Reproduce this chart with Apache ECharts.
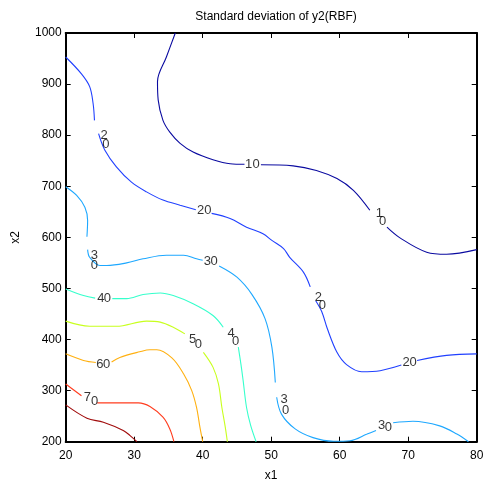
<!DOCTYPE html>
<html>
<head>
<meta charset="utf-8">
<script src="https://cdn.jsdelivr.net/npm/echarts@6/dist/echarts.min.js"></script>
<style>html,body{margin:0;padding:0;background:#fff}#c{width:487px;height:491px}</style>
</head>
<body>
<div id="c"></div>
<script>
// ---- data (x1, x2) ----
const levels = [10, 20, 30, 40, 50, 60, 70, 80];
const level10 = [
  [[36,1000],[34.7,953],[33.4,905],[33.5,869],[34.2,829],[35.2,806],[36.7,784],[38.6,767],[41.5,752],[44.0,744],[46.1,743]],
  [[48.5,742],[53.2,740],[56.6,731],[59.6,715],[62.0,692],[64.4,653]],
  [[66.9,620],[68.8,599],[72.7,571],[75.6,567],[80,576]]
];
const level20 = [
  [[20,953],[22.3,920],[23.5,895],[24.0,862],[24.2,829]],
  [[24.8,803],[25.7,771],[27.4,738],[29.6,708],[31.8,689],[34.2,673],[36.7,663],[39.0,654]],
  [[41.3,647],[44.0,637],[46.4,620],[48.8,607],[50.1,594],[51.8,578],[52.7,561],[54.7,532],[55.7,503]],
  [[56.5,476],[57.4,454],[58.2,421],[59.6,375],[61.0,351],[63.2,337],[65.9,339],[69.0,350]],
  [[71.3,359],[75.6,369],[80,372]]
];
const level30 = [
  [[20,699],[21.6,682],[22.8,659],[23.2,633],[23.1,601]],
  [[23.2,576],[23.5,561],[25.0,545],[26.0,545],[28.9,550],[31.3,558],[34.7,565],[37.2,565],[39.1,558],[40.0,555]],
  [[42.4,544],[45.0,522],[47.2,488],[49.1,441],[50.1,385],[50.6,316]],
  [[50.8,287],[51.5,254],[53.5,225],[56.1,208],[59.1,201],[61.5,202],[64.0,215],[65.3,222]],
  [[67.8,237],[70.7,240],[74.6,231],[77.1,215],[78.8,200]]
];
const level40 = [
  [[20,499],[22.6,486],[24.3,481]],
  [[26.8,480],[28.9,480],[31.3,488],[33.8,491],[35.7,486],[38.6,470],[41.5,447],[43.0,424]],
  [[45.2,385],[45.6,350],[45.9,320],[46.4,267],[47.0,232],[47.8,200]]
];
const level50 = [
  [[20,436],[23.5,426],[27.4,426],[31.8,436],[33.8,434],[35.7,424],[37.4,411]],
  [[40.1,375],[41.5,346],[42.3,313],[42.8,267],[43.3,228],[43.6,200]]
];
const level60 = [
  [[20,372],[22.6,359],[24.4,355]],
  [[26.7,356],[27.9,365],[30.8,376],[32.3,380],[33.3,380],[35.5,364],[37.2,333],[38.4,300],[39.1,267],[39.6,228],[40.0,200]]
];
const level70 = [
  [[20,313],[22.3,290]],
  [[24.6,276],[26.5,276],[30.6,276],[32.3,269],[34.2,248],[35.2,225],[35.8,200]]
];
const level80 = [
  [[20,272],[23.1,246],[25.5,238],[28.4,222],[29.4,212],[30.4,200]]
];
// contour label characters: [x1, x2, text]
const labelItems = [
  [46.69,743,'1'],[47.78,743,'0'],
  [65.78,646,'1'],[66.28,632,'0'],
  [25.59,800,'2'],[25.88,782,'0'],
  [39.68,652,'2'],[40.77,652,'0'],
  [56.88,482,'2'],[57.46,467,'0'],
  [69.68,355,'2'],[70.70,355,'0'],
  [24.18,565,'3'],[24.18,545,'0'],
  [40.67,552,'3'],[41.65,552,'0'],
  [51.87,282,'3'],[52.12,262,'0'],
  [66.13,232,'3'],[67.10,228,'0'],
  [25.15,481,'4'],[26.10,481,'0'],
  [44.13,411,'4'],[44.82,397,'0'],
  [38.54,401,'5'],[39.36,390,'0'],
  [25.00,352,'6'],[25.99,352,'0'],
  [23.15,287,'7'],[24.23,279,'0']
];
const xRange = [20, 80, 10];
const yRange = [200, 1000, 100];
const titleText = 'Standard deviation of y2(RBF)';

// ---- styles ----
const levelColors = ['#0a0aa0','#2040ff','#1ea8ff','#36ffcc','#c8ff1e','#ffb010','#ff3c1e','#a00a0a'];
const font = "'Liberation Sans', Arial, Helvetica, sans-serif";
const allLevels = [level10, level20, level30, level40, level50, level60, level70, level80];

const series = [];
allLevels.forEach((pieces, i) => {
  pieces.forEach(p => {
    series.push({
      type: 'line', data: p, showSymbol: false, smooth: 0.35, silent: true,
      lineStyle: { color: levelColors[i], width: 1.1 }, z: 2, animation: false,
      name: String(levels[i])
    });
  });
});
series.push({
  type: 'scatter', data: labelItems, symbolSize: 1, itemStyle: { color: 'rgba(0,0,0,0)' },
  silent: true, animation: false, z: 5,
  label: { show: true, position: 'inside', formatter: p => p.value[2], color: '#000', fontSize: 13, fontFamily: font }
});

const axisCommon = (extra) => Object.assign({
  type: 'value', splitLine: { show: false },
  axisLine: { show: true, onZero: false, lineStyle: { color: '#000', width: 2 } },
  axisTick: { show: true, inside: true, length: 5, lineStyle: { color: '#000', width: 1 } }
}, extra);

const chart = echarts.init(document.getElementById('c'), null, { renderer: 'canvas' });
chart.setOption({
  animation: false,
  backgroundColor: '#fff',
  title: { text: titleText, left: 271, top: 6, textAlign: 'center',
    textStyle: { fontSize: 12, fontWeight: 'normal', color: '#000', fontFamily: font } },
  grid: { left: 65.7, top: 33, right: 10.3, bottom: 49.3, containLabel: false },
  xAxis: [
    axisCommon({ position: 'bottom', min: xRange[0], max: xRange[1], interval: xRange[2],
      name: 'x1', nameLocation: 'middle', nameGap: 28,
      nameTextStyle: { fontSize: 12, color: '#000', fontFamily: font },
      axisLabel: { fontSize: 12, color: '#000', margin: 8, fontFamily: font, formatter: v => String(v) } }),
    axisCommon({ position: 'top', min: xRange[0], max: xRange[1], interval: xRange[2],
      axisLabel: { show: false } })
  ],
  yAxis: [
    axisCommon({ position: 'left', min: yRange[0], max: yRange[1], interval: yRange[2],
      name: 'x2', nameLocation: 'middle', nameGap: 44, nameRotate: 90,
      nameTextStyle: { fontSize: 12, color: '#000', fontFamily: font },
      axisLabel: { fontSize: 12, color: '#000', margin: 4, fontFamily: font, formatter: v => String(v) } }),
    axisCommon({ position: 'right', min: yRange[0], max: yRange[1], interval: yRange[2],
      axisLabel: { show: false } })
  ],
  series: series
});
</script>
</body>
</html>
